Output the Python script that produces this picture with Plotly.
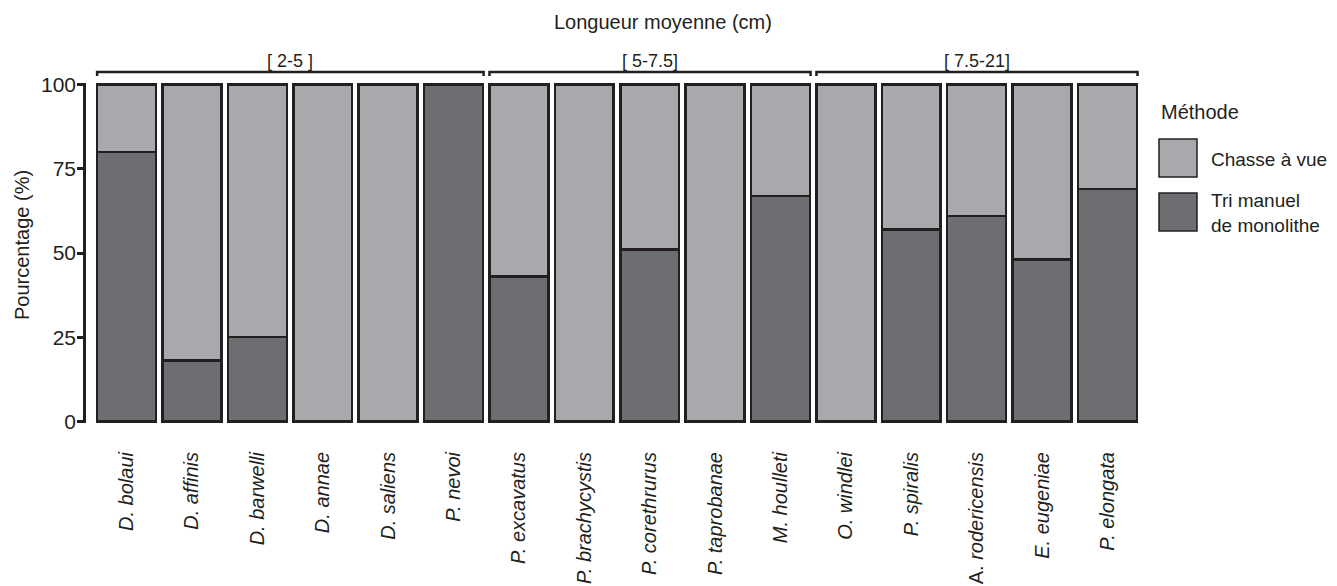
import plotly.graph_objects as go

# Species (x categories), in display order
species = [
    "<i>D. bolaui</i>", "<i>D. affinis</i>", "<i>D. barwelli</i>", "<i>D. annae</i>",
    "<i>D. saliens</i>", "<i>P. nevoi</i>", "<i>P. excavatus</i>", "<i>P. brachycystis</i>",
    "<i>P. corethrurus</i>", "<i>P. taprobanae</i>", "<i>M. houlleti</i>", "<i>O. windlei</i>",
    "<i>P. spiralis</i>", "A. <i>rodericensis</i>", "<i>E. eugeniae</i>", "<i>P. elongata</i>",
]

# Percentage of individuals collected by each method
tri_manuel = [80, 18, 25, 0, 0, 100, 43, 0, 51, 0, 67, 0, 57, 61, 48, 69]
chasse_vue = [20, 82, 75, 100, 100, 0, 57, 100, 49, 100, 33, 100, 43, 39, 52, 31]

# Mean-length classes: (label, first species index, last species index)
length_groups = [("[ 2-5 ]", 0, 5), ("[ 5-7.5]", 6, 10), ("[ 7.5-21]", 11, 15)]

y_ticks = [0, 25, 50, 75, 100]

LIGHT = "#A7A9AC"
DARK = "#6D6E71"
INK = "#231F20"
FONT = "Liberation Sans, Arial, Helvetica, sans-serif"

W, H = 1337, 586
L, R, T, B = 86, 189, 83, 163
plot_w = W - L - R
plot_h = H - T - B


def px_x(px):
    """Figure pixel column -> paper x."""
    return (px - L) / plot_w


def px_y(py):
    """Figure pixel row (from top) -> paper y."""
    return (H - B - py) / plot_h


xs = list(range(len(species)))

fig = go.Figure()
fig.add_trace(go.Bar(
    x=xs, y=tri_manuel, name="Tri manuel de monolithe",
    marker=dict(color=DARK, line=dict(color=INK, width=2.5)),
    showlegend=False,
))
fig.add_trace(go.Bar(
    x=xs, y=chasse_vue, name="Chasse à vue",
    marker=dict(color=LIGHT, line=dict(color=INK, width=2.5)),
    showlegend=False,
))

shapes = []
annotations = []

# Brackets for the length classes above the bars
y_top = px_y(72)
y_end = px_y(76)
for label, i0, i1 in length_groups:
    x0 = i0 - 0.45
    x1 = i1 + 0.46
    shapes.append(dict(
        type="path", xref="x", yref="paper",
        path=f"M {x0},{y_end} L {x0},{y_top} L {x1},{y_top} L {x1},{y_end}",
        line=dict(color=INK, width=2.5),
    ))
    annotations.append(dict(
        x=(x0 + x1) / 2, y=px_y(61), xref="x", yref="paper",
        text=label, showarrow=False, xanchor="center", yanchor="middle",
        font=dict(size=18, color=INK, family=FONT),
    ))

# Top title
annotations.append(dict(
    x=px_x(663), y=px_y(22), xref="paper", yref="paper",
    text="Longueur moyenne (cm)", showarrow=False,
    xanchor="center", yanchor="middle",
    font=dict(size=20, color=INK, family=FONT),
))

# Y-axis title
annotations.append(dict(
    x=px_x(22), y=px_y(245), xref="paper", yref="paper",
    text="Pourcentage (%)", showarrow=False, textangle=-90,
    xanchor="center", yanchor="middle",
    font=dict(size=20, color=INK, family=FONT),
))

# Legend
annotations.append(dict(
    x=px_x(1159), y=px_y(112), xref="paper", yref="paper",
    text="Méthode", showarrow=False, xanchor="left", yanchor="middle",
    font=dict(size=20, color=INK, family=FONT),
))
legend_items = [
    ("Chasse à vue", LIGHT, 139, 177, 159),
    ("Tri manuel<br>de monolithe", DARK, 193, 231, 213),
]
for text, color, top, bottom, ty in legend_items:
    shapes.append(dict(
        type="rect", xref="paper", yref="paper",
        x0=px_x(1159), x1=px_x(1197), y0=px_y(bottom), y1=px_y(top),
        fillcolor=color, line=dict(color=INK, width=1.5),
    ))
    annotations.append(dict(
        x=px_x(1209), y=px_y(ty), xref="paper", yref="paper",
        text=text, showarrow=False, xanchor="left", yanchor="middle",
        align="left",
        font=dict(size=19, color=INK, family=FONT),
    ))

fig.update_layout(
    width=W, height=H,
    margin=dict(l=L, r=R, t=T, b=B, pad=0, autoexpand=False),
    barmode="stack", bargap=0.1,
    plot_bgcolor="white", paper_bgcolor="white",
    font=dict(family=FONT, color=INK, size=20),
    shapes=shapes, annotations=annotations,
    xaxis=dict(
        range=[-0.62, 15.62], tickmode="array", tickvals=xs, ticktext=species,
        tickangle=-90, showgrid=False, zeroline=False, showline=False,
        ticks="", ticklabelstandoff=24, automargin=False,
        tickfont=dict(size=20, color=INK, family=FONT),
    ),
    yaxis=dict(
        range=[-0.5, 100.5], tickmode="array", tickvals=y_ticks,
        showgrid=False, zeroline=False, showline=True, linecolor=INK, linewidth=2.5,
        ticks="outside", ticklen=6, tickwidth=2.5, tickcolor=INK,
        ticklabelstandoff=-3, automargin=False,
        tickfont=dict(size=21, color=INK, family=FONT),
    ),
)

fig.write_html("out.html")
